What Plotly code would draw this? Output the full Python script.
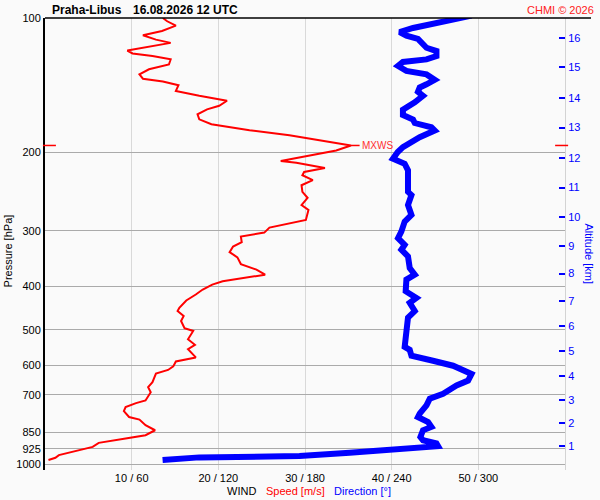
import plotly.graph_objects as go

# wind speed profile [hPa] / [m/s]
speed_hpa = [100.0, 101.7, 104.0, 106.9, 109.3, 111.8, 113.7, 115.3, 118.3, 120.1,
             121.7, 123.8, 127.1, 130.3, 133.8, 136.8, 138.8, 141.5, 145.7, 149.4,
             153.3, 157.3, 160.3, 164.4, 168.7, 173.1, 178.5, 183.2, 186.9, 193.1,
             198.1, 203.2, 209.3, 211.1, 216.9, 221.4, 225.2, 231.0, 237.1, 245.3,
             253.0, 262.6, 269.4, 283.6, 289.1, 295.1, 302.8, 309.0, 318.2, 325.3,
             334.9, 344.1, 356.2, 366.6, 376.2, 383.9, 389.3, 396.0, 406.2, 416.8,
             429.8, 446.4, 453.9, 465.7, 477.8, 496.1, 503.0, 525.0, 540.5, 552.6,
             576.8, 588.8, 604.0, 615.3, 627.0, 655.6, 672.6, 690.2, 720.1, 730.1,
             745.3, 760.7, 784.6, 795.0, 818.6, 840.0, 861.8, 876.6, 896.6, 915.2,
             938.9, 955.0, 968.3, 979.8]
speed_ms = [13.6, 14.1, 15.1, 13.5, 11.3, 12.8, 14.5, 12.8, 9.5, 10.1,
            12.4, 14.5, 14.3, 12.0, 10.9, 11.3, 13.6, 15.4, 15.1, 17.8,
            21.0, 20.1, 18.7, 17.6, 17.8, 19.2, 23.6, 28.2, 31.1, 35.3,
            33.6, 30.5, 27.2, 29.0, 32.3, 29.9, 29.7, 30.9, 29.6, 29.7,
            30.3, 29.6, 30.4, 30.1, 28.2, 25.9, 25.3, 22.6, 22.7, 21.7,
            21.3, 22.2, 22.6, 24.4, 25.4, 22.4, 20.5, 19.3, 18.2, 17.4,
            16.3, 15.5, 15.3, 16.0, 15.7, 16.1, 17.1, 16.5, 17.3, 16.5,
            17.4, 15.1, 14.8, 14.2, 12.8, 12.4, 11.9, 12.2, 11.6, 10.5,
            9.3, 9.1, 9.7, 10.9, 11.6, 12.7, 11.6, 9.3, 6.2, 5.5,
            3.2, 1.6, 1.2, 0.4]

# wind direction profile [hPa] / [deg]
dir_hpa = [98.8, 102.2, 105.3, 107.6, 109.5, 111.4, 114.1, 116.6, 118.6, 121.7,
           123.8, 125.5, 128.1, 131.4, 133.8, 137.6, 140.8, 143.2, 146.4, 149.4,
           154.6, 160.6, 165.0, 169.0, 172.0, 175.8, 178.8, 185.0, 194.8, 199.8,
           206.8, 212.2, 219.5, 245.3, 249.5, 262.6, 276.5, 286.1, 301.2, 311.7,
           322.5, 330.8, 342.4, 363.6, 376.2, 385.9, 409.8, 424.2, 435.1, 453.9,
           469.8, 503.0, 529.5, 546.2, 554.6, 571.9, 586.7, 602.0, 628.0, 650.0,
           666.8, 695.8, 713.9, 738.8, 771.0, 784.6, 805.0, 825.8, 840.0, 869.4,
           884.4, 899.4, 912.0, 918.1, 927.6, 943.6, 959.8, 962.3, 966.3, 979.8]
dir_deg = [295.3, 273.3, 254.8, 245.5, 250.2, 258.2, 261.7, 264.1, 271.0, 271.0,
           264.1, 247.8, 244.4, 250.2, 264.1, 269.8, 264.1, 259.4, 258.2, 261.7,
           256.0, 247.8, 247.8, 254.8, 256.0, 267.5, 269.8, 259.4, 247.8, 244.2,
           240.9, 249.0, 251.3, 251.3, 253.7, 251.3, 253.7, 249.0, 246.7, 244.4,
           249.0, 246.7, 251.3, 252.5, 256.0, 250.2, 249.7, 257.1, 252.5, 256.0,
           251.3, 250.2, 249.0, 249.0, 252.5, 253.7, 268.6, 282.5, 295.3, 292.9,
           284.9, 275.6, 266.4, 264.1, 259.4, 258.2, 265.2, 267.5, 261.7, 259.9,
           261.7, 271.0, 272.1, 261.7, 240.9, 210.9, 176.2, 139.2, 106.8, 81.4]

p_ticks = [100, 200, 300, 400, 500, 600, 700, 850, 925, 1000]
speed_ticks = [10, 20, 30, 40, 50]
dir_ticks = [60, 120, 180, 240, 300]
alt_km = [1, 2, 3, 4, 5, 6, 7, 8, 9, 10, 11, 12, 13, 14, 15, 16]
alt_hpa = [912, 809, 718, 635, 558, 491, 431, 374, 325, 280, 240, 206, 176, 151, 129, 111]

FONT = "Liberation Sans, Arial, sans-serif"
y_range = [3.0134, 2]  # log10 hPa, reversed

fig = go.Figure()

fig.add_trace(go.Scatter(x=speed_ms, y=speed_hpa, mode="lines",
                         line=dict(color="#ff0000", width=2), xaxis="x", yaxis="y"))
# direction goes on x2 (0-360) and the altitude axis y2 (same pressure range)
fig.add_trace(go.Scatter(x=dir_deg, y=dir_hpa, mode="lines",
                         line=dict(color="#0000ff", width=6), xaxis="x2", yaxis="y2"))

# max wind marker
i_max = speed_ms.index(max(speed_ms))
p_max = speed_hpa[i_max]

fig.update_layout(
    width=600, height=500,
    margin=dict(l=45, r=35, t=15, b=30),
    paper_bgcolor="#fafafa", plot_bgcolor="#fafafa",
    showlegend=False,
    font=dict(family=FONT, size=11, color="black"),
    xaxis=dict(range=[0, 60], tickvals=speed_ticks,
               ticktext=[f"{s} / {d}" for s, d in zip(speed_ticks, dir_ticks)],
               showgrid=True, gridcolor="#d9d9d9", gridwidth=1,
               zeroline=False, showline=False, ticks="", tickfont=dict(size=11)),
    xaxis2=dict(range=[0, 360], overlaying="x", side="top", visible=False),
    yaxis=dict(type="log", range=y_range, tickvals=p_ticks,
               ticktext=[str(p) for p in p_ticks],
               showgrid=True, gridcolor="#aaaaaa", gridwidth=1,
               zeroline=False, showline=True, linecolor="black", linewidth=2,
               ticks="", tickfont=dict(size=11)),
    yaxis2=dict(type="log", range=y_range, overlaying="y", side="right",
                tickmode="array", tickvals=alt_hpa, ticktext=[str(a) for a in alt_km],
                ticks="inside", ticklen=6, tickcolor="#0000ff", tickwidth=1.5,
                tickfont=dict(size=11, color="#0000ff"),
                showgrid=False, zeroline=False,
                showline=True, linecolor="#d3d3d3", linewidth=1),
)

# top frame line and max-wind marks
fig.add_shape(type="line", xref="paper", yref="paper", x0=0, x1=1.05, y0=1, y1=1,
              line=dict(color="black", width=1.5))
fig.add_shape(type="line", xref="paper", yref="y", x0=-0.004, x1=0.021,
              y0=p_max, y1=p_max, line=dict(color="#ff0000", width=1.5))
fig.add_shape(type="line", xref="paper", yref="y", x0=0.981, x1=1.006,
              y0=p_max, y1=p_max, line=dict(color="#ff0000", width=1.5))
fig.add_shape(type="line", xref="x", yref="y", x0=speed_ms[i_max], x1=speed_ms[i_max] + 1,
              y0=p_max, y1=p_max, line=dict(color="#ff0000", width=1.5))

fig.add_annotation(x=speed_ms[i_max] + 1.1, y=2.286, xref="x", yref="y", text="MXWS",
                   showarrow=False, xanchor="left", yanchor="middle",
                   font=dict(size=10, color="#ff3030"))

# texts placed in page pixels
ann = [
    dict(text="<b>Praha-Libus</b>", x=50, y=7, anchor="left", color="black", size=12),
    dict(text="<b>16.08.2026 12 UTC</b>", x=131, y=7, anchor="left", color="black", size=12),
    dict(text="CHMI © 2026", x=596, y=7, anchor="right", color="#ff2020", size=11),
    dict(text="WIND", x=225, y=491, anchor="left", color="black", size=11),
    dict(text="Speed [m/s]", x=264, y=491, anchor="left", color="#ff0000", size=11),
    dict(text="Direction [°]", x=332, y=491, anchor="left", color="#0000ff", size=11),
]
for a in ann:
    fig.add_annotation(x=(a["x"] - 45) / 520, y=(470 - a["y"]) / 455,
                       xref="paper", yref="paper", text=a["text"], showarrow=False,
                       xanchor=a["anchor"], yanchor="middle",
                       font=dict(size=a["size"], color=a["color"]))

fig.add_annotation(x=(8 - 45) / 520, y=(470 - 250) / 455, xref="paper", yref="paper",
                   text="Pressure [hPa]", textangle=-90, showarrow=False,
                   xanchor="center", yanchor="middle", font=dict(size=11, color="black"))
fig.add_annotation(x=(589 - 45) / 520, y=(470 - 252) / 455, xref="paper", yref="paper",
                   text="Altitude [km]", textangle=90, showarrow=False,
                   xanchor="center", yanchor="middle", font=dict(size=11, color="#0000ff"))

fig.write_html("out.html", config={"displayModeBar": False},
               post_script="document.body.style.margin='0';"
                           "document.body.style.overflow='hidden';")
